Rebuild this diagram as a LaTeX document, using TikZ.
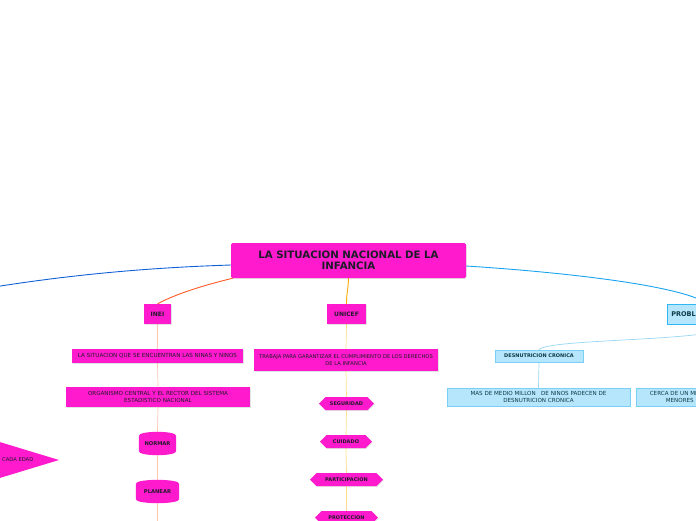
\documentclass[tikz,border=0pt]{standalone}
\usepackage{fontspec}
\setmainfont{DejaVu Sans}
\usetikzlibrary{shapes.geometric,shapes.symbols,shadows}
\definecolor{mag}{HTML}{FF1ACD}
\definecolor{txt}{HTML}{1E1A2A}
\definecolor{bltxt}{HTML}{0E3A46}
\definecolor{lblue}{HTML}{0F62D6}
\definecolor{orred}{HTML}{FF5A26}
\definecolor{uorange}{HTML}{FFAA00}
\definecolor{rblue}{HTML}{1AA3EE}
\definecolor{salmon}{HTML}{FFC6B4}
\definecolor{pyellow}{HTML}{FFDF8C}
\definecolor{pblue}{HTML}{98D6F4}
\definecolor{bfill}{HTML}{B5E6FC}
\definecolor{bborder}{HTML}{2FB8F4}
\definecolor{bborder2}{HTML}{7ACFF6}
\pgfdeclarelayer{bg}
\pgfsetlayers{bg,main}
\newcommand\barrelfill[1]{%
  \fill[mag] ([yshift=-4pt]#1.north west) .. controls ([yshift=1.3pt]#1.north west) and ([yshift=1.3pt]#1.north east) .. ([yshift=-4pt]#1.north east)
    -- ([yshift=4pt]#1.south east) .. controls ([yshift=-1.3pt]#1.south east) and ([yshift=-1.3pt]#1.south west) .. ([yshift=4pt]#1.south west) -- cycle;}
\begin{document}
\begin{tikzpicture}[x=1pt,y=-1pt,
  shad/.style={drop shadow={shadow xshift=0.6pt,shadow yshift=-0.9pt,opacity=0.22}},
  magbox/.style={rectangle, fill=mag, draw=none, inner sep=0pt, align=center, text=txt, shad},
  rootbox/.style={magbox, rounded corners=1.5pt, font=\fontsize{10.2}{11}\selectfont\bfseries},
  headbox/.style={magbox, font=\fontsize{6}{7}\selectfont\bfseries},
  smallbox/.style={magbox, font=\fontsize{5.6}{6.6}\selectfont},
  barrel/.style={rectangle, draw=none, inner sep=0pt, text=txt, font=\fontsize{5.2}{6}\selectfont\bfseries},
  hexa/.style={signal, signal to=west and east, fill=mag, draw=none, inner sep=0pt, text=txt,
     font=\fontsize{5}{6}\selectfont\bfseries, minimum height=13pt, shad},
  bluehead/.style={rectangle, fill=bfill, draw=bborder, line width=0.8pt, inner sep=0pt, text=bltxt,
     font=\fontsize{6.5}{7}\selectfont\bfseries},
  bluebox/.style={rectangle, fill=bfill, draw=bborder2, line width=0.6pt, inner sep=0pt, text=bltxt, align=center},
  conn/.style={line width=0.9pt},
  thinconn/.style={line width=0.7pt}
]
\path[use as bounding box] (0,0) rectangle (696,520);
\clip (0,0) rectangle (696,520);

% root
\node[rootbox, minimum width=235pt, minimum height=35pt] (root) at (348.5,260.5) {LA SITUACION NACIONAL DE LA\\INFANCIA};

% INEI branch
\node[headbox, minimum width=27pt, minimum height=20pt] (inei) at (157.5,314) {INEI};
\node[smallbox, minimum width=171pt, minimum height=14pt] (sitq) at (157.5,356) {LA SITUACION QUE SE ENCUENTRAN LAS NINAS Y NINOS};
\node[smallbox, minimum width=184pt, minimum height=20pt] (org) at (158,397) {ORGANISMO CENTRAL Y EL RECTOR DEL SISTEMA\\ESTADISTICO NACIONAL};
\node[barrel, minimum width=37pt, minimum height=23pt] (normar) at (157.5,443.5) {NORMAR};
\node[barrel, minimum width=43pt, minimum height=23pt] (planear) at (157.5,491.5) {PLANEAR};
\coordinate (ineiend) at (157.5,540);

% CADA EDAD triangle
\path[fill=mag] (-30,433) -- (59,460) -- (-30,487) -- cycle;
\node[anchor=west, inner sep=0pt, text=txt, font=\fontsize{5.2}{6}\selectfont] (cada) at (2,460) {CADA EDAD};

% UNICEF branch
\node[headbox, minimum width=39pt, minimum height=20pt] (unicef) at (346.5,314) {UNICEF};
\node[smallbox, minimum width=184pt, minimum height=22pt, font=\fontsize{5.2}{6.6}\selectfont] (trabaja) at (346,360) {TRABAJA PARA GARANTIZAR EL CUMPLIMIENTO DE LOS DERECHOS\\DE LA INFANCIA};
\node[hexa, minimum width=55pt] (seguridad) at (346.5,403.5) {SEGURIDAD};
\node[hexa, minimum width=52pt] (cuidado) at (346,441.5) {CUIDADO};
\node[hexa, minimum width=73pt] (particip) at (346.5,479.5) {PARTICIPACION};
\node[hexa, minimum width=63pt] (proteccion) at (346.5,517.5) {PROTECCION};

% PROBL branch
\node[bluehead, anchor=west, minimum width=134pt, minimum height=20pt, text width=126pt, align=left] (probl) at (667,314) {PROBL};
\node[bluebox, minimum width=88pt, minimum height=12pt, font=\fontsize{5}{6}\selectfont\bfseries] (desn) at (539,356) {DESNUTRICION CRONICA};
\node[bluebox, minimum width=183pt, minimum height=18pt, font=\fontsize{5.6}{6.6}\selectfont] (mas) at (538.5,397) {MAS DE MEDIO MILLON\ \ \ DE NINOS PADECEN DE\\DESNUTRICION CRONICA};
\node[bluebox, anchor=west, minimum width=183pt, minimum height=18pt, text width=170pt, align=left, font=\fontsize{5.6}{6.6}\selectfont] (cerca) at (636,397) {\hspace*{7pt}CERCA DE UN MI\\\hspace*{23pt}MENORES D};

\coordinate (lefto) at (-30,291);

\begin{pgfonlayer}{bg}
\clip (0,0) rectangle (696,520);
\draw[conn, lblue] ([yshift=-4.5pt]root.west) .. controls (170,267) and (80,272) .. (lefto);
\draw[conn, orred] ([xshift=2pt]root.south west) .. controls (205,285) and (178,293) .. (inei.north);
\draw[conn, uorange] (root.south) .. controls (348,292) and (346.5,292) .. (unicef.north);
\draw[conn, rblue] ([yshift=-5.5pt]root.east) .. controls (560,272) and (680,285) .. ([xshift=-27pt]probl.north);
\draw[thinconn, pblue] (probl.south) .. controls (725,342) and (548,338) .. (desn.north);
\draw[thinconn, pblue] (desn.south) -- (mas.north);
\draw[thinconn, salmon] (inei.south) -- (sitq.north);
\draw[thinconn, salmon] (sitq.south) -- (org.north);
\draw[thinconn, salmon] (org.south) -- (normar.north);
\draw[thinconn, salmon] (normar.south) -- (planear.north);
\draw[thinconn, salmon] (planear.south) -- (ineiend);
\draw[thinconn, pyellow] (unicef.south) -- (trabaja.north);
\draw[thinconn, pyellow] (trabaja.south) -- (seguridad.north);
\draw[thinconn, pyellow] (seguridad.south) -- (cuidado.north);
\draw[thinconn, pyellow] (cuidado.south) -- (particip.north);
\draw[thinconn, pyellow] (particip.south) -- (proteccion.north);
\barrelfill{normar}
\barrelfill{planear}
\end{pgfonlayer}
\end{tikzpicture}
\end{document}
